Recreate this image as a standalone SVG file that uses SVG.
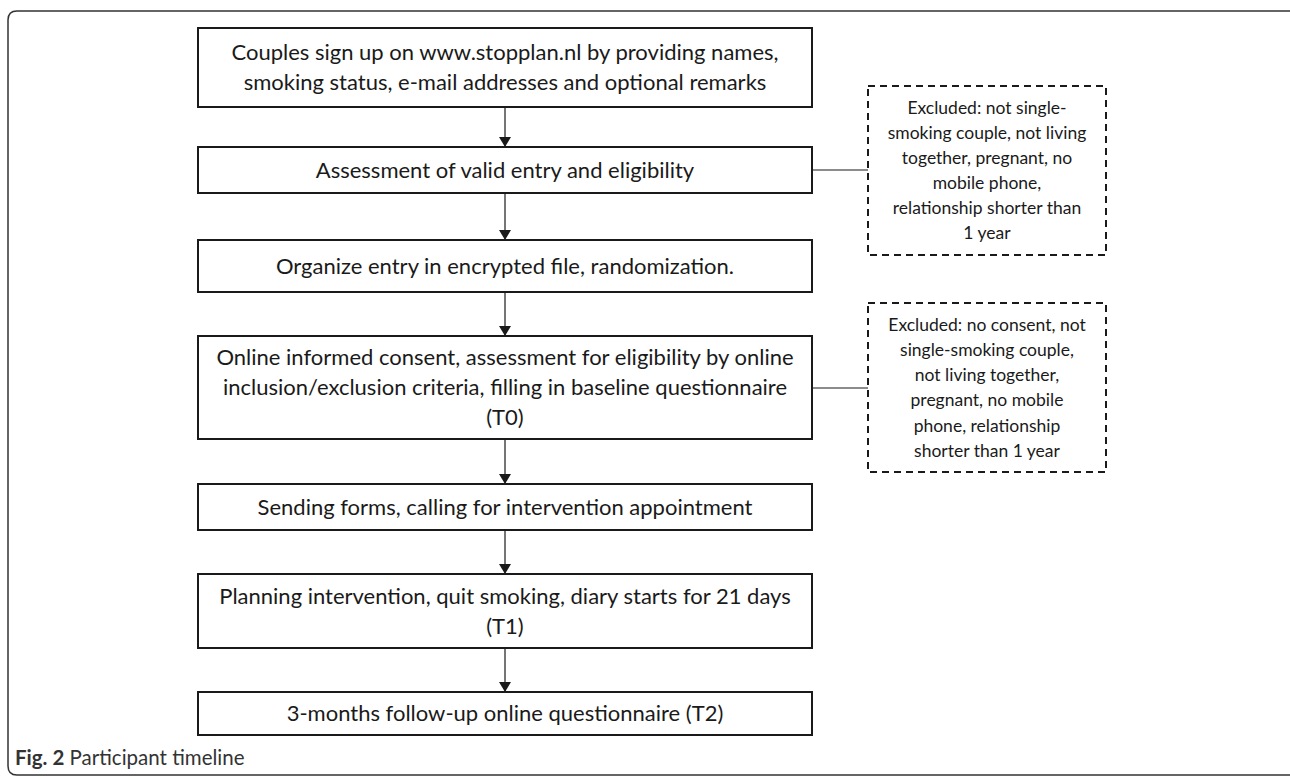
<svg xmlns="http://www.w3.org/2000/svg" width="1290" height="780" viewBox="0 0 1290 780">
<defs>
<style>
.box{fill:#fff;stroke:#1a1a1a;stroke-width:2}
.dbox{fill:#fff;stroke:#1a1a1a;stroke-width:2;stroke-dasharray:7 5}
.t{font-family:Lato,"Liberation Sans",sans-serif;font-size:22px;fill:#1a1a1a;text-anchor:middle}
.s{font-family:Lato,"Liberation Sans",sans-serif;font-size:17.5px;fill:#1a1a1a;text-anchor:middle}
.c{stroke:#1a1a1a;stroke-width:1.2;fill:none}
.cap{font-family:Lato,"Liberation Sans",sans-serif;font-size:20.5px;fill:#333}
</style>
<marker id="ah" viewBox="0 0 10 12" refX="10" refY="6" markerWidth="10" markerHeight="12" markerUnits="userSpaceOnUse" orient="auto">
<path d="M0,0 L10,6 L0,12 Z" fill="#1a1a1a"/>
</marker>
</defs>
<rect width="1290" height="780" fill="#fff"/>
<path d="M1295,11 L17,11 Q8,11 8,20 L8,766 Q8,775 17,775 L1295,775" fill="none" stroke="#333" stroke-width="1.5"/>
<g id="connectors">
<line class="c" x1="505" y1="107" x2="505" y2="147" marker-end="url(#ah)"/>
<line class="c" x1="505" y1="193" x2="505" y2="240" marker-end="url(#ah)"/>
<line class="c" x1="505" y1="292" x2="505" y2="336" marker-end="url(#ah)"/>
<line class="c" x1="505" y1="439" x2="505" y2="484" marker-end="url(#ah)"/>
<line class="c" x1="505" y1="530" x2="505" y2="574" marker-end="url(#ah)"/>
<line class="c" x1="505" y1="648" x2="505" y2="692" marker-end="url(#ah)"/>
<line class="c" x1="812" y1="170" x2="868" y2="170"/>
<line class="c" x1="812" y1="388" x2="868" y2="388"/>
</g>
<g id="n1"><rect class="box" x="198" y="28" width="614" height="79"/>
<text class="t" x="505" y="60">Couples sign up on www.stopplan.nl by providing names,</text>
<text class="t" x="505" y="90">smoking status, e-mail addresses and optional remarks</text></g>
<g id="n2"><rect class="box" x="198" y="147" width="614" height="46"/>
<text class="t" x="505" y="178">Assessment of valid entry and eligibility</text></g>
<g id="n3"><rect class="box" x="198" y="240" width="614" height="52"/>
<text class="t" x="505" y="274">Organize entry in encrypted file, randomization.</text></g>
<g id="n4"><rect class="box" x="198" y="336" width="614" height="103"/>
<text class="t" x="505" y="365">Online informed consent, assessment for eligibility by online</text>
<text class="t" x="505" y="395">inclusion/exclusion criteria, filling in baseline questionnaire</text>
<text class="t" x="505" y="425">(T0)</text></g>
<g id="n5"><rect class="box" x="198" y="484" width="614" height="46"/>
<text class="t" x="505" y="515">Sending forms, calling for intervention appointment</text></g>
<g id="n6"><rect class="box" x="198" y="574" width="614" height="74"/>
<text class="t" x="505" y="604">Planning intervention, quit smoking, diary starts for 21 days</text>
<text class="t" x="505" y="634">(T1)</text></g>
<g id="n7"><rect class="box" x="198" y="692" width="614" height="43"/>
<text class="t" x="505" y="721">3-months follow-up online questionnaire (T2)</text></g>
<g id="x1"><rect class="dbox" x="868" y="86" width="238" height="169"/>
<text class="s" x="987" y="114">Excluded: not single-</text>
<text class="s" x="987" y="139">smoking couple, not living</text>
<text class="s" x="987" y="164">together, pregnant, no</text>
<text class="s" x="987" y="189">mobile phone,</text>
<text class="s" x="987" y="214">relationship shorter than</text>
<text class="s" x="987" y="239">1 year</text></g>
<g id="x2"><rect class="dbox" x="868" y="303" width="238" height="169"/>
<text class="s" x="987" y="331">Excluded: no consent, not</text>
<text class="s" x="987" y="356">single-smoking couple,</text>
<text class="s" x="987" y="381">not living together,</text>
<text class="s" x="987" y="406">pregnant, no mobile</text>
<text class="s" x="987" y="432">phone, relationship</text>
<text class="s" x="987" y="457">shorter than 1 year</text></g>
<text class="cap" x="15" y="765"><tspan font-weight="bold">Fig. 2</tspan> Participant timeline</text>
</svg>
